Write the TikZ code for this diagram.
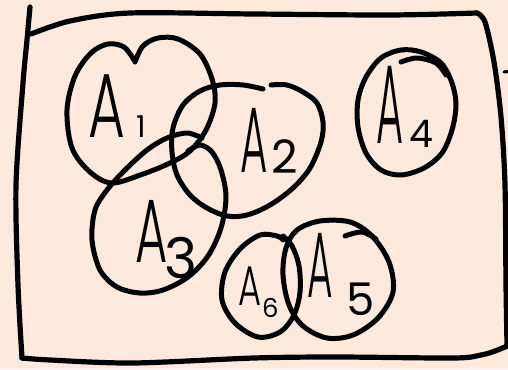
\documentclass[tikz,border=0pt]{standalone}
\usepackage{fontspec}
\usepackage{graphicx}
\setmainfont{Liberation Sans}
\newfontfamily\hand{Poppins Light}
\newfontfamily\handdigit{Poppins}
\definecolor{paper}{RGB}{253,234,220}
\newcommand\lbl[6]{\hand\scalebox{#1}[1]{\fontsize{#2}{#2}\selectfont A}\hspace{#3pt}\raisebox{#4pt}{\handdigit\fontsize{#5}{#5}\selectfont #6}}
\tikzset{
  ink/.style={line width=5pt, line cap=round, line join=round, black},
  lab/.style={anchor=base west, inner sep=0pt, outer sep=0pt}
}
\begin{document}
\begin{tikzpicture}[x=1pt,y=-1pt]
\useasboundingbox (0,0) rectangle (508,369);
\fill[paper] (0,0) rectangle (508,369);
% frame
\draw[ink, line width=5.2pt] plot[smooth, tension=0.5] coordinates {(31,34) (70,21) (130,13) (254,14) (390,15) (477,13)};
\draw[ink, line width=5.2pt] plot[smooth, tension=0.5] coordinates {(477,13) (485,22) (494,62) (501,117) (505,185) (506,285) (507,345)};
\draw[ink, line width=5.2pt] plot[smooth, tension=0.5] coordinates {(512,344) (495,351) (481,355) (454,358) (337,357) (254,358) (133,363) (50,360) (22,358)};
\draw[ink, line width=5.2pt] plot[smooth, tension=0.5] coordinates {(30,7) (27,40) (23,83) (16,185) (18,285) (22,358)};
\draw[ink, line width=3pt] (504,72) -- (512,71);
% A1
\draw[ink] plot[smooth, tension=0.55] coordinates {(134,60) (124,47) (108,44) (91,53) (75,76) (67,110) (72,148) (90,172) (112,183) (143,174) (170,163) (190,151) (206,130) (215,103) (212,79) (200,54) (178,39) (158,38) (143,46) (135,62)};
% A3
\draw[ink] plot[smooth, tension=0.55] coordinates {(188,151) (200,145) (212,152) (221,170) (226,197) (221,228) (208,256) (188,277) (163,290) (140,293) (117,287) (100,270) (92,240) (95,210) (107,190) (125,170) (147,150) (167,138) (187,133) (202,138)};
% A2
\draw[ink] plot[smooth, tension=0.55] coordinates {(263,89) (243,85) (220,85) (200,91) (183,105) (173,128) (172,152) (177,175) (190,195) (207,208) (227,216) (247,215) (270,205) (293,188) (310,168) (321,142) (323,122) (317,103) (303,92) (287,85) (271,85)};
% A4
\draw[ink] plot[smooth cycle, tension=0.55] coordinates {(401,50) (421,52) (441,63) (452,83) (456,105) (452,130) (442,153) (424,168) (401,175) (381,170) (366,153) (358,127) (358,100) (366,77) (381,58)};
\draw[ink] plot[smooth, tension=0.55] coordinates {(401,62) (417,58) (436,63) (446,75)};
% A6
\draw[ink] plot[smooth, tension=0.55] coordinates {(283,240) (277,236) (260,235) (240,249) (225,272) (222,300) (235,323) (258,337) (280,332) (294,315) (300,292) (299,266) (292,246) (283,236)};
% A5
\draw[ink] plot[smooth cycle, tension=0.55] coordinates {(297,230) (320,221) (350,222) (372,236) (389,262) (393,292) (378,318) (353,335) (327,338) (303,326) (289,305) (283,275) (286,248)};
\draw[ink] plot[smooth, tension=0.55] coordinates {(345,236) (362,232) (376,239)};
% labels
\node[lab] (a1) at (88,137) {\lbl{0.62}{91}{12}{0}{30}{1}};
\node[lab] (a2) at (240,172) {\lbl{0.45}{93}{4}{-1}{46}{2}};
\node[lab] (a3) at (135,262) {\lbl{0.55}{90}{-3}{-16}{56}{3}};
\node[lab] (a4) at (376,143) {\lbl{0.37}{112}{6}{-4}{38}{4}};
\node[lab] (a5) at (307,297) {\lbl{0.42}{93}{14}{-18}{45}{5}};
\node[lab] (a6) at (238,305) {\lbl{0.63}{56}{1}{-12}{26}{6}};
\end{tikzpicture}
\end{document}
